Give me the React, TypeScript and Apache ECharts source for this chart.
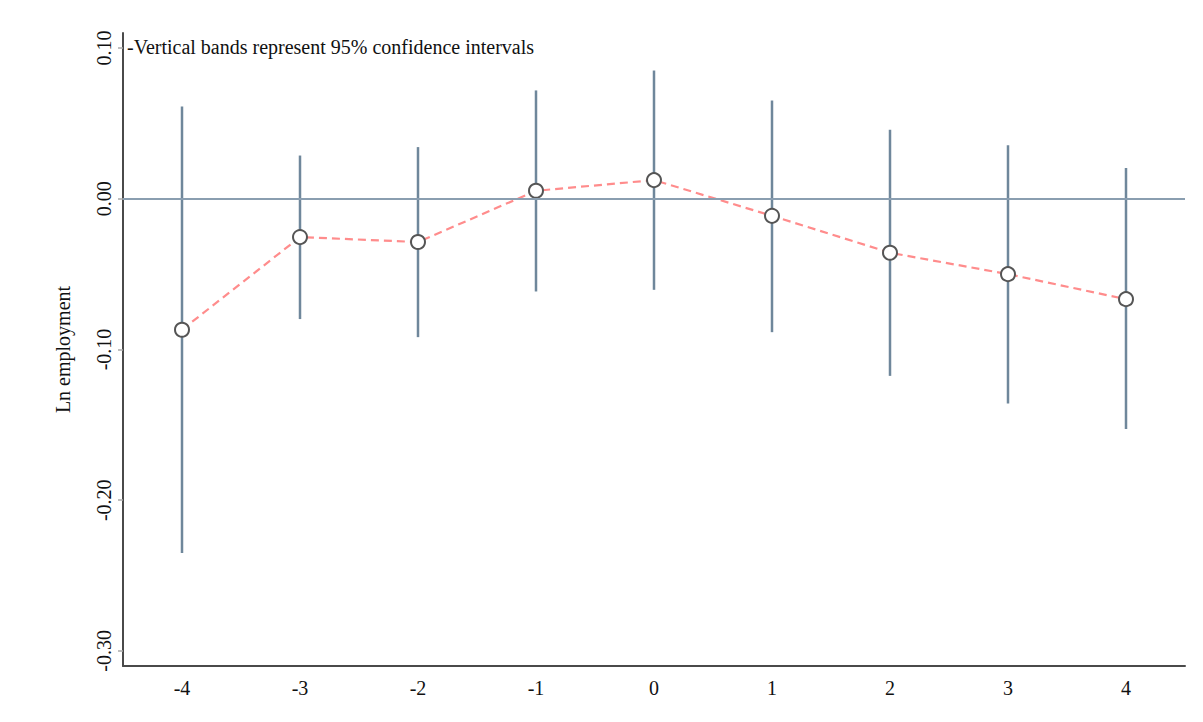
import React, { useEffect, useRef } from "react";
import * as echarts from "echarts";

const periods = ["-4", "-3", "-2", "-1", "0", "1", "2", "3", "4"];
const estimates = [-0.0869, -0.0254, -0.0287, 0.0053, 0.0124, -0.0113, -0.0358, -0.05, -0.0666];
const ciLower = [-0.2351, -0.0798, -0.0918, -0.0615, -0.0604, -0.0885, -0.1175, -0.1358, -0.1528];
const ciUpper = [0.0612, 0.0287, 0.0343, 0.0719, 0.0851, 0.0652, 0.0458, 0.0356, 0.0204];
const yTicks = [-0.3, -0.2, -0.1, 0, 0.1];

const FONT = "'Liberation Serif', 'Times New Roman', serif";

export default function App() {
  const ref = useRef<HTMLDivElement>(null);
  useEffect(() => {
    if (!ref.current) return;
    const chart = echarts.init(ref.current, null, { renderer: "svg" });
    const ciData = periods.map((_, i) => [i, ciLower[i], ciUpper[i]]);
    chart.setOption({
      animation: false,
      backgroundColor: "#ffffff",
      grid: { left: 123, right: 18, top: 33, bottom: 56, containLabel: false },
      xAxis: {
        type: "category",
        data: periods,
        boundaryGap: true,
        axisLine: { onZero: false, lineStyle: { color: "#4a4a4a", width: 2 } },
        axisTick: { alignWithLabel: true, length: 5, lineStyle: { color: "#aaaaaa", width: 1.5 } },
        axisLabel: { color: "#111", fontFamily: FONT, fontSize: 20, margin: 12 },
        splitLine: { show: false },
      },
      yAxis: {
        type: "value",
        min: -0.31,
        max: 0.11,
        name: "Ln employment",
        nameLocation: "middle",
        nameGap: 50,
        nameRotate: 90,
        nameTextStyle: { color: "#111", fontFamily: FONT, fontSize: 20 },
        axisLine: { show: true, lineStyle: { color: "#4a4a4a", width: 2 } },
        axisTick: { show: true, length: 5, customValues: yTicks, lineStyle: { color: "#aaaaaa", width: 1.5 } },
        axisLabel: {
          customValues: yTicks,
          rotate: 90,
          color: "#111",
          fontFamily: FONT,
          fontSize: 20,
          margin: 9,
          formatter: (v: number) => (Math.abs(v) < 1e-9 ? "0.00" : v.toFixed(2)),
        },
        splitLine: { show: false },
      },
      graphic: [
        {
          type: "text",
          left: 127,
          top: 37,
          style: {
            text: "-Vertical bands represent 95% confidence intervals",
            fontFamily: FONT,
            fontSize: 20,
            fill: "#111",
          },
        },
      ],
      series: [
        {
          type: "custom",
          z: 2,
          data: ciData,
          encode: { x: 0, y: [1, 2] },
          renderItem: (params: any, api: any) => {
            const x = api.value(0);
            const lo = api.coord([x, api.value(1)]);
            const hi = api.coord([x, api.value(2)]);
            return {
              type: "line",
              shape: { x1: lo[0], y1: lo[1], x2: hi[0], y2: hi[1] },
              style: { stroke: "#6f879b", lineWidth: 2.5 },
            };
          },
          markLine: {
            silent: true,
            symbol: "none",
            label: { show: false },
            lineStyle: { color: "#8a9eb0", width: 2, type: "solid" },
            data: [{ yAxis: 0 }],
          },
        },
        {
          type: "line",
          z: 3,
          data: estimates,
          symbol: "circle",
          symbolSize: 14,
          showSymbol: true,
          lineStyle: { color: "#ff8c8c", width: 2.2, type: [8, 5] },
          itemStyle: { color: "#ffffff", borderColor: "#555555", borderWidth: 2 },
        },
      ],
    });
    return () => chart.dispose();
  }, []);
  return (
    <div
      ref={ref}
      style={{ position: "fixed", left: 0, top: 0, width: 1203, height: 722, background: "#fff" }}
    />
  );
}
